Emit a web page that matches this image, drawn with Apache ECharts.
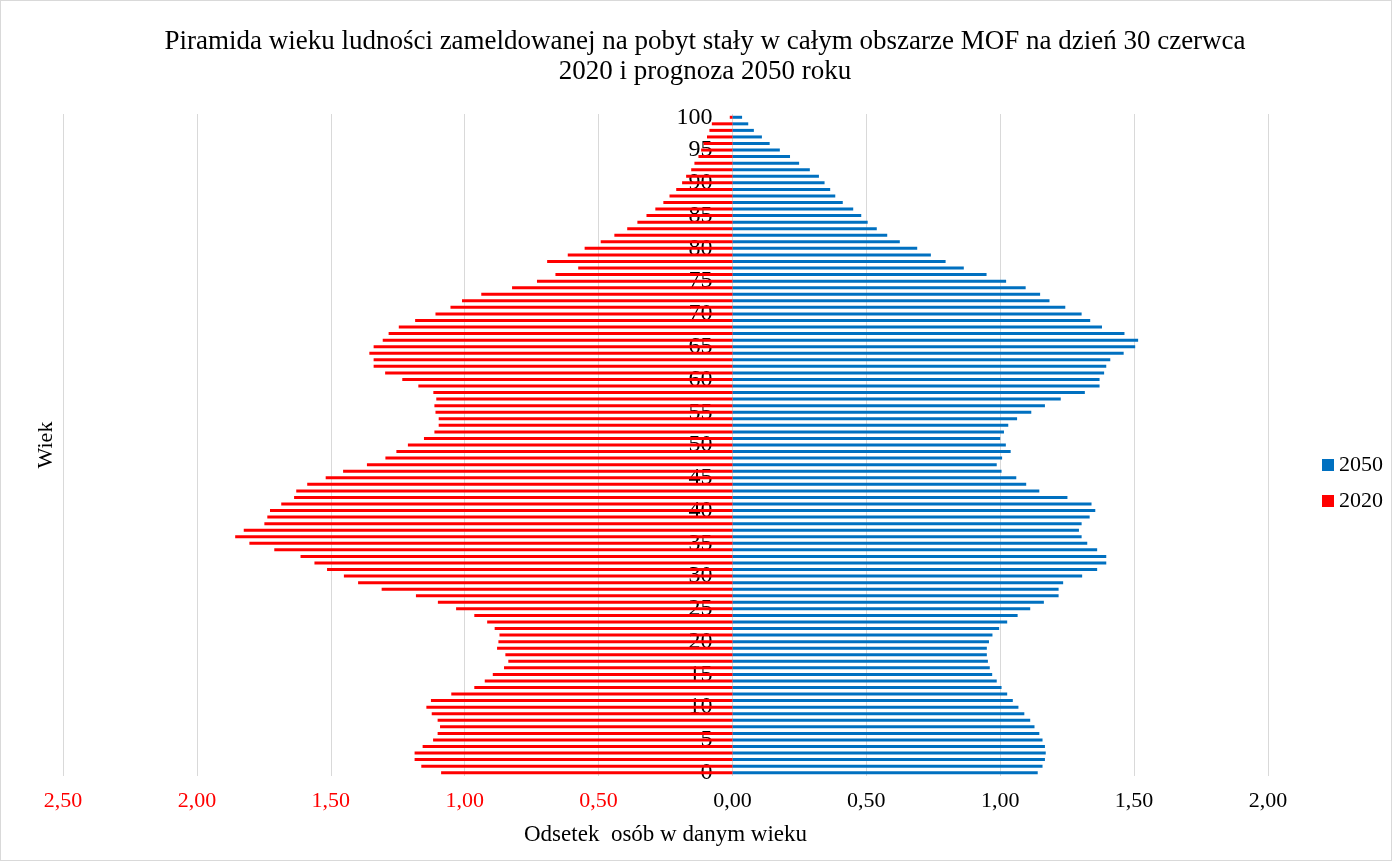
<!DOCTYPE html>
<html>
<head>
<meta charset="utf-8">
<title>Piramida wieku</title>
<script src="https://cdn.jsdelivr.net/npm/echarts@6/dist/echarts.min.js"></script>
<style>
  html, body { margin: 0; padding: 0; background: #fff; }
  #chart { width: 1390px; height: 859px; border: 1px solid #d9d9d9; }
</style>
</head>
<body>
<div id="chart"></div>
<script>
// wiek 0..100
const ages = []
for (let a = 0; a <= 100; a++) ages.push(String(a))

// odsetek osob w danym wieku, 2020 (lewa strona)
const pop2020 = [
  1.088, 1.162, 1.187, 1.187, 1.157, 1.118, 1.101, 1.092, 1.101, 1.123,
  1.143, 1.126, 1.050, 0.964, 0.925, 0.895, 0.853, 0.837, 0.848, 0.879,
  0.874, 0.870, 0.888, 0.916, 0.964, 1.032, 1.100, 1.182, 1.310, 1.398,
  1.451, 1.514, 1.561, 1.613, 1.711, 1.804, 1.857, 1.825, 1.748, 1.737,
  1.727, 1.685, 1.637, 1.629, 1.588, 1.519, 1.454, 1.365, 1.296, 1.255,
  1.212, 1.152, 1.113, 1.097, 1.097, 1.109, 1.113, 1.106, 1.117, 1.173,
  1.233, 1.297, 1.340, 1.340, 1.356, 1.340, 1.306, 1.284, 1.246, 1.185,
  1.109, 1.053, 1.010, 0.938, 0.823, 0.730, 0.661, 0.576, 0.692, 0.615,
  0.552, 0.492, 0.441, 0.393, 0.355, 0.321, 0.288, 0.258, 0.235, 0.210,
  0.188, 0.173, 0.154, 0.142, 0.127, 0.117, 0.108, 0.095, 0.086, 0.077,
  0.010
]

// prognoza 2050 (prawa strona)
const pop2050 = [
  1.140, 1.158, 1.167, 1.170, 1.167, 1.158, 1.146, 1.128, 1.112, 1.090,
  1.068, 1.047, 1.026, 1.005, 0.987, 0.970, 0.961, 0.954, 0.950, 0.950,
  0.958, 0.971, 0.996, 1.026, 1.065, 1.112, 1.163, 1.218, 1.218, 1.235,
  1.306, 1.362, 1.396, 1.396, 1.362, 1.325, 1.304, 1.294, 1.304, 1.334,
  1.355, 1.341, 1.251, 1.146, 1.097, 1.060, 1.005, 0.987, 1.007, 1.039,
  1.021, 1.000, 1.014, 1.030, 1.063, 1.116, 1.167, 1.226, 1.316, 1.371,
  1.371, 1.388, 1.396, 1.411, 1.461, 1.504, 1.515, 1.464, 1.380, 1.336,
  1.304, 1.243, 1.184, 1.149, 1.095, 1.022, 0.949, 0.864, 0.796, 0.741,
  0.690, 0.625, 0.578, 0.539, 0.505, 0.481, 0.451, 0.412, 0.384, 0.365,
  0.344, 0.323, 0.289, 0.249, 0.215, 0.177, 0.139, 0.110, 0.080, 0.059,
  0.036
]

const X_MIN = -2.5
const X_MAX = 2

const FONT = 'Liberation Serif'
const GRID_LEFT = 62
const GRID_RIGHT = 123

const el = document.getElementById('chart')
const chart = echarts.init(el)

// os wieku ma stac na zerze osi X
const plotWidth = el.clientWidth - GRID_LEFT - GRID_RIGHT
const zeroOffset = plotWidth * (0 - X_MIN) / (X_MAX - X_MIN)

chart.setOption({
  animation: false,
  textStyle: { fontFamily: FONT },
  title: {
    text: 'Piramida wieku ludności zameldowanej na pobyt stały w całym obszarze MOF na dzień 30 czerwca\n2020 i prognoza 2050 roku',
    left: 699,
    textAlign: 'center',
    top: 21,
    textStyle: {
      fontFamily: FONT,
      fontSize: 27,
      fontWeight: 'normal',
      color: '#000',
      lineHeight: 30
    }
  },
  legend: {
    data: ['2050', '2020'],
    orient: 'vertical',
    left: 1316,
    top: 448,
    itemWidth: 12,
    itemHeight: 12,
    itemGap: 14,
    icon: 'rect',
    textStyle: { fontFamily: FONT, fontSize: 22, color: '#000' }
  },
  grid: {
    left: GRID_LEFT,
    right: GRID_RIGHT,
    top: 113,
    bottom: 84,
    containLabel: false,
    outerBoundsMode: 'none'
  },
  xAxis: {
    type: 'value',
    min: X_MIN,
    max: X_MAX,
    interval: 0.5,
    name: 'Odsetek  osób w danym wieku',
    nameLocation: 'middle',
    nameGap: 47,
    nameTextStyle: { fontFamily: FONT, fontSize: 23, color: '#000' },
    axisLine: { show: false },
    axisTick: { show: false },
    splitLine: { lineStyle: { color: '#d9d9d9', width: 1 } },
    axisLabel: {
      margin: 14,
      fontFamily: FONT,
      fontSize: 22,
      color: function (v) { return v < 0 ? '#ff0000' : '#000' },
      formatter: function (v) { return Math.abs(v).toFixed(2).replace('.', ',') }
    }
  },
  yAxis: [
    {
      type: 'category',
      data: ages,
      position: 'left',
      offset: -zeroOffset,
      axisLine: { show: false, onZero: false },
      axisTick: { show: false },
      axisLabel: {
        interval: 4,
        margin: 20,
        fontFamily: FONT,
        fontSize: 24,
        color: '#000'
      }
    },
    {
      // tylko nazwa osi po lewej stronie
      type: 'category',
      data: ages,
      position: 'left',
      name: 'Wiek',
      nameLocation: 'middle',
      nameRotate: 90,
      nameGap: 6,
      nameTextStyle: { fontFamily: FONT, fontSize: 22, color: '#000' },
      axisLine: { show: false, onZero: false },
      axisTick: { show: false },
      axisLabel: { show: false },
      splitLine: { show: false }
    }
  ],
  series: [
    {
      name: '2050',
      type: 'bar',
      data: pop2050,
      barWidth: 3,
      barGap: '-100%',
      itemStyle: { color: '#0070c0' }
    },
    {
      name: '2020',
      type: 'bar',
      data: pop2020.map(v => -v),
      barWidth: 3,
      barGap: '-100%',
      itemStyle: { color: '#ff0000' }
    }
  ]
})
</script>
</body>
</html>
